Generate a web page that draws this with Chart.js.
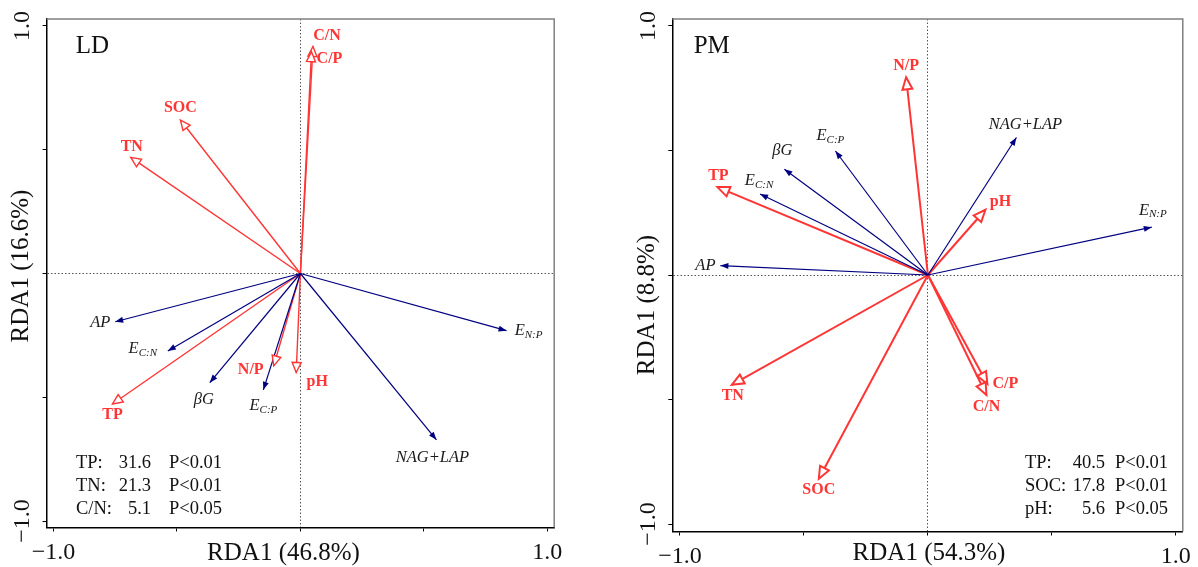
<!DOCTYPE html>
<html>
<head>
<meta charset="utf-8">
<script src="https://cdn.jsdelivr.net/npm/chart.js@4.4.0/dist/chart.umd.min.js"></script>
<style>
  body { margin: 0; background: #fff; }
  #wrap { position: relative; width: 1198px; height: 567px; }
  #ld { position: absolute; left: 0; top: 0; }
  #pm { position: absolute; left: 600px; top: 0; }
</style>
</head>
<body>
<div id="wrap">
  <canvas id="ld" width="600" height="567"></canvas>
  <canvas id="pm" width="598" height="567"></canvas>
</div>
<script>
// ---- LD panel ----
var ldEnvNames = ['C/N', 'C/P', 'SOC', 'TN', 'TP', 'N/P', 'pH'];
var ldEnvX = [0.051, 0.045, -0.486, -0.687, -0.761, -0.108, -0.017];
var ldEnvY = [0.917, 0.896, 0.620, 0.469, -0.527, -0.373, -0.400];
var ldEnzNames = ['AP', 'E_C:N', 'βG', 'E_C:P', 'E_N:P', 'NAG+LAP'];
var ldEnzX = [-0.750, -0.537, -0.367, -0.150, 0.835, 0.551];
var ldEnzY = [-0.195, -0.313, -0.441, -0.470, -0.231, -0.672];
var ldStatNames = ['TP:', 'TN:', 'C/N:'];
var ldStatVals = [31.6, 21.3, 5.1];
var ldStatP = ['P<0.01', 'P<0.01', 'P<0.05'];

// ---- PM panel ----
var pmEnvNames = ['N/P', 'TP', 'pH', 'TN', 'SOC', 'C/P', 'C/N'];
var pmEnvX = [-0.088, -0.849, 0.232, -0.791, -0.440, 0.240, 0.236];
var pmEnvY = [0.794, 0.353, 0.262, -0.441, -0.818, -0.438, -0.482];
var pmEnzNames = ['NAG+LAP', 'E_C:P', 'βG', 'E_C:N', 'E_N:P', 'AP'];
var pmEnzX = [0.357, -0.373, -0.579, -0.677, 0.903, -0.837];
var pmEnzY = [0.552, 0.498, 0.425, 0.325, 0.192, 0.038];
var pmStatNames = ['TP:', 'SOC:', 'pH:'];
var pmStatVals = [40.5, 17.8, 5.6];
var pmStatP = ['P<0.01', 'P<0.01', 'P<0.05'];

var tickVals = [-1, -0.5, 0, 0.5, 1];

var RED = '#ff3535';
var NAVY = '#000080';
var FONT = '"Liberation Serif", "Times New Roman", serif';

// layout / style per panel (pixels)
var ldLayout = {
  xMin: -1.028, xMax: 1.028, yMin: -1.026, yMax: 1.028,
  padLeft: 0, yWidth: 46.6, padRight: 45.8, padTop: 19, xHeight: 39.5,
  redWidth: 1.4, redLen: 10, redHalf: 4.5,
  tag: 'LD', tagPos: [92.5, 46],
  xTitle: 'RDA1 (46.8%)', xTitlePos: [283.5, 553],
  yTitle: 'RDA1 (16.6%)', yTitlePos: [21.6, 266],
  statCols: [76, 151, 169], statY: [462.7, 485.7, 508.7],
  nudge: {'C/N': [14, -11], 'C/P': [18, 7], 'SOC': [0, -12], 'TN': [1, -11], 'TP': [0, 11],
          'N/P': [-23, 4], 'pH': [21, 9], 'AP': [-15, 1], 'E_C:N': [-25, -2], 'βG': [-6, 17],
          'E_C:P': [0, 16], 'E_N:P': [22, 0], 'NAG+LAP': [-4, 18]}
};
var pmLayout = {
  xMin: -1.031, xMax: 1.028, yMin: -1.030, yMax: 1.028,
  padLeft: 25.7, yWidth: 46.6, padRight: 12, padTop: 19, xHeight: 35.5,
  redWidth: 2, redLen: 12, redHalf: 5,
  tag: 'PM', tagPos: [111.7, 46],
  xTitle: 'RDA1 (54.3%)', xTitlePos: [329, 553],
  yTitle: 'RDA1 (8.8%)', yTitlePos: [47.5, 305],
  statCols: [425, 505, 515], statY: [462.7, 485.7, 508.7],
  nudge: {'N/P': [0, -11], 'NAG+LAP': [9, -13], 'E_C:P': [-5, -15], 'βG': [-2, -19], 'TP': [1, -11],
          'E_C:N': [-1, -13], 'pH': [15, -8], 'E_N:P': [1, -17], 'AP': [-15, 0], 'TN': [1, 11],
          'SOC': [0, 11], 'C/P': [18, 0], 'C/N': [0, 12]}
};

Chart.defaults.font.family = FONT;

function head(ctx, x0, y0, x1, y1, len, hw, open, color, lw) {
  var a = Math.atan2(y1 - y0, x1 - x0);
  var bx = x1 - len * Math.cos(a), by = y1 - len * Math.sin(a);
  var px = -Math.sin(a) * hw, py = Math.cos(a) * hw;
  ctx.beginPath();
  ctx.moveTo(x1, y1);
  ctx.lineTo(bx + px, by + py);
  ctx.lineTo(bx - px, by - py);
  ctx.closePath();
  if (open) {
    ctx.fillStyle = '#fff';
    ctx.fill();
    ctx.lineWidth = lw;
    ctx.strokeStyle = color;
    ctx.lineJoin = 'miter';
    ctx.stroke();
  } else {
    ctx.fillStyle = color;
    ctx.fill();
  }
}

function drawName(ctx, name, x, y, red) {
  ctx.textBaseline = 'middle';
  if (red) {
    ctx.font = 'bold 16px ' + FONT;
    ctx.fillStyle = RED;
    ctx.textAlign = 'center';
    ctx.fillText(name, x, y);
    return;
  }
  var parts = name.split('_');
  ctx.fillStyle = '#1a1a1a';
  ctx.textAlign = 'left';
  ctx.font = 'italic 16.5px ' + FONT;
  var w1 = ctx.measureText(parts[0]).width, w2 = 0;
  if (parts[1]) {
    ctx.font = 'italic 11px ' + FONT;
    w2 = ctx.measureText(parts[1]).width;
  }
  var x0 = x - (w1 + w2) / 2;
  ctx.font = 'italic 16.5px ' + FONT;
  ctx.fillText(parts[0], x0, y);
  if (parts[1]) {
    ctx.font = 'italic 11px ' + FONT;
    ctx.fillText(parts[1], x0 + w1, y + 4);
  }
}

function makePanel(id, envNames, envX, envY, enzNames, enzX, enzY, statNames, statVals, statP, L) {
  var datasets = [];
  for (var i = 0; i < enzNames.length; i++) {
    datasets.push({
      label: enzNames[i], kind: 'enz',
      data: [{x: 0, y: 0}, {x: enzX[i], y: enzY[i]}],
      showLine: true, borderColor: NAVY, borderWidth: 1.2, pointRadius: 0
    });
  }
  for (var j = 0; j < envNames.length; j++) {
    datasets.push({
      label: envNames[j], kind: 'env',
      data: [{x: 0, y: 0}, {x: envX[j], y: envY[j]}],
      showLine: true, borderColor: RED, borderWidth: L.redWidth, pointRadius: 0
    });
  }

  var zeroGrid = function (c) { return c.tick && c.tick.value === 0 ? '#555' : 'rgba(0,0,0,0)'; };

  var arrowPlugin = {
    id: 'arrows',
    afterDatasetsDraw: function (chart) {
      var ctx = chart.ctx, xs = chart.scales.x, ys = chart.scales.y, a = chart.chartArea;
      ctx.save();
      // grey top/right frame
      ctx.strokeStyle = '#808080';
      ctx.lineWidth = 1.5;
      ctx.beginPath();
      ctx.moveTo(a.left, a.top);
      ctx.lineTo(a.right, a.top);
      ctx.lineTo(a.right, a.bottom);
      ctx.stroke();

      var ox = xs.getPixelForValue(0), oy = ys.getPixelForValue(0);
      chart.data.datasets.forEach(function (ds) {
        var p = ds.data[1];
        var tx = xs.getPixelForValue(p.x), ty = ys.getPixelForValue(p.y);
        if (ds.kind === 'enz') head(ctx, ox, oy, tx, ty, 8, 3, false, NAVY, 1);
        else head(ctx, ox, oy, tx, ty, L.redLen, L.redHalf, true, RED, L.redWidth);
      });
      chart.data.datasets.forEach(function (ds) {
        var p = ds.data[1];
        var tx = xs.getPixelForValue(p.x), ty = ys.getPixelForValue(p.y);
        var n = L.nudge[ds.label] || [0, 0];
        drawName(ctx, ds.label, tx + n[0], ty + n[1], ds.kind === 'env');
      });
      ctx.restore();
    },
    afterDraw: function (chart) {
      var ctx = chart.ctx, ys = chart.scales.y, a = chart.chartArea;
      ctx.save();
      ctx.fillStyle = '#111';
      ctx.textBaseline = 'middle';
      // rotated y tick labels (only the ends)
      ctx.font = '24px ' + FONT;
      ctx.textAlign = 'center';
      [-1, 1].forEach(function (v) {
        ctx.save();
        ctx.translate(a.left - 24, ys.getPixelForValue(v));
        ctx.rotate(-Math.PI / 2);
        ctx.fillText(v < 0 ? '\u22121.0' : '1.0', 0, 0);
        ctx.restore();
      });
      // axis titles
      ctx.font = '25px ' + FONT;
      ctx.fillText(L.xTitle, L.xTitlePos[0], L.xTitlePos[1]);
      ctx.save();
      ctx.translate(L.yTitlePos[0], L.yTitlePos[1]);
      ctx.rotate(-Math.PI / 2);
      ctx.fillText(L.yTitle, 0, 0);
      ctx.restore();
      // panel tag
      ctx.fillText(L.tag, L.tagPos[0], L.tagPos[1]);
      // stats
      ctx.font = '18.5px ' + FONT;
      for (var k = 0; k < statNames.length; k++) {
        var y = L.statY[k];
        ctx.textAlign = 'left';
        ctx.fillText(statNames[k], L.statCols[0], y);
        ctx.textAlign = 'right';
        ctx.fillText(statVals[k].toFixed(1), L.statCols[1], y);
        ctx.textAlign = 'left';
        ctx.fillText(statP[k], L.statCols[2], y);
      }
      ctx.restore();
    }
  };

  return new Chart(document.getElementById(id), {
    type: 'scatter',
    data: {datasets: datasets},
    options: {
      responsive: false,
      animation: false,
      devicePixelRatio: 1,
      layout: {padding: {left: L.padLeft, right: L.padRight, top: L.padTop, bottom: 0}},
      plugins: {legend: {display: false}, tooltip: {enabled: false}},
      scales: {
        x: {
          type: 'linear', min: L.xMin, max: L.xMax,
          afterBuildTicks: function (s) { s.ticks = tickVals.map(function (v) { return {value: v}; }); },
          afterFit: function (s) { s.height = L.xHeight; },
          ticks: {
            color: '#111', padding: 7, maxRotation: 0, autoSkip: false,
            font: {size: 24, family: FONT},
            callback: function (v) { return Math.abs(v) === 1 ? (v < 0 ? '\u22121.0' : '1.0') : ''; }
          },
          grid: {color: zeroGrid, lineWidth: 1, tickColor: '#000', tickLength: 4, tickWidth: 1},
          border: {display: true, color: '#000', width: 1.5, dash: [1.5, 2]}
        },
        y: {
          type: 'linear', min: L.yMin, max: L.yMax,
          afterBuildTicks: function (s) { s.ticks = tickVals.map(function (v) { return {value: v}; }); },
          afterFit: function (s) { s.width = L.yWidth; },
          ticks: {display: false},
          grid: {color: zeroGrid, lineWidth: 1, tickColor: '#000', tickLength: 4, tickWidth: 1},
          border: {display: true, color: '#000', width: 1.5, dash: [1.5, 2]}
        }
      }
    },
    plugins: [arrowPlugin]
  });
}

makePanel('ld', ldEnvNames, ldEnvX, ldEnvY, ldEnzNames, ldEnzX, ldEnzY, ldStatNames, ldStatVals, ldStatP, ldLayout);
makePanel('pm', pmEnvNames, pmEnvX, pmEnvY, pmEnzNames, pmEnzX, pmEnzY, pmStatNames, pmStatVals, pmStatP, pmLayout);
</script>
</body>
</html>
